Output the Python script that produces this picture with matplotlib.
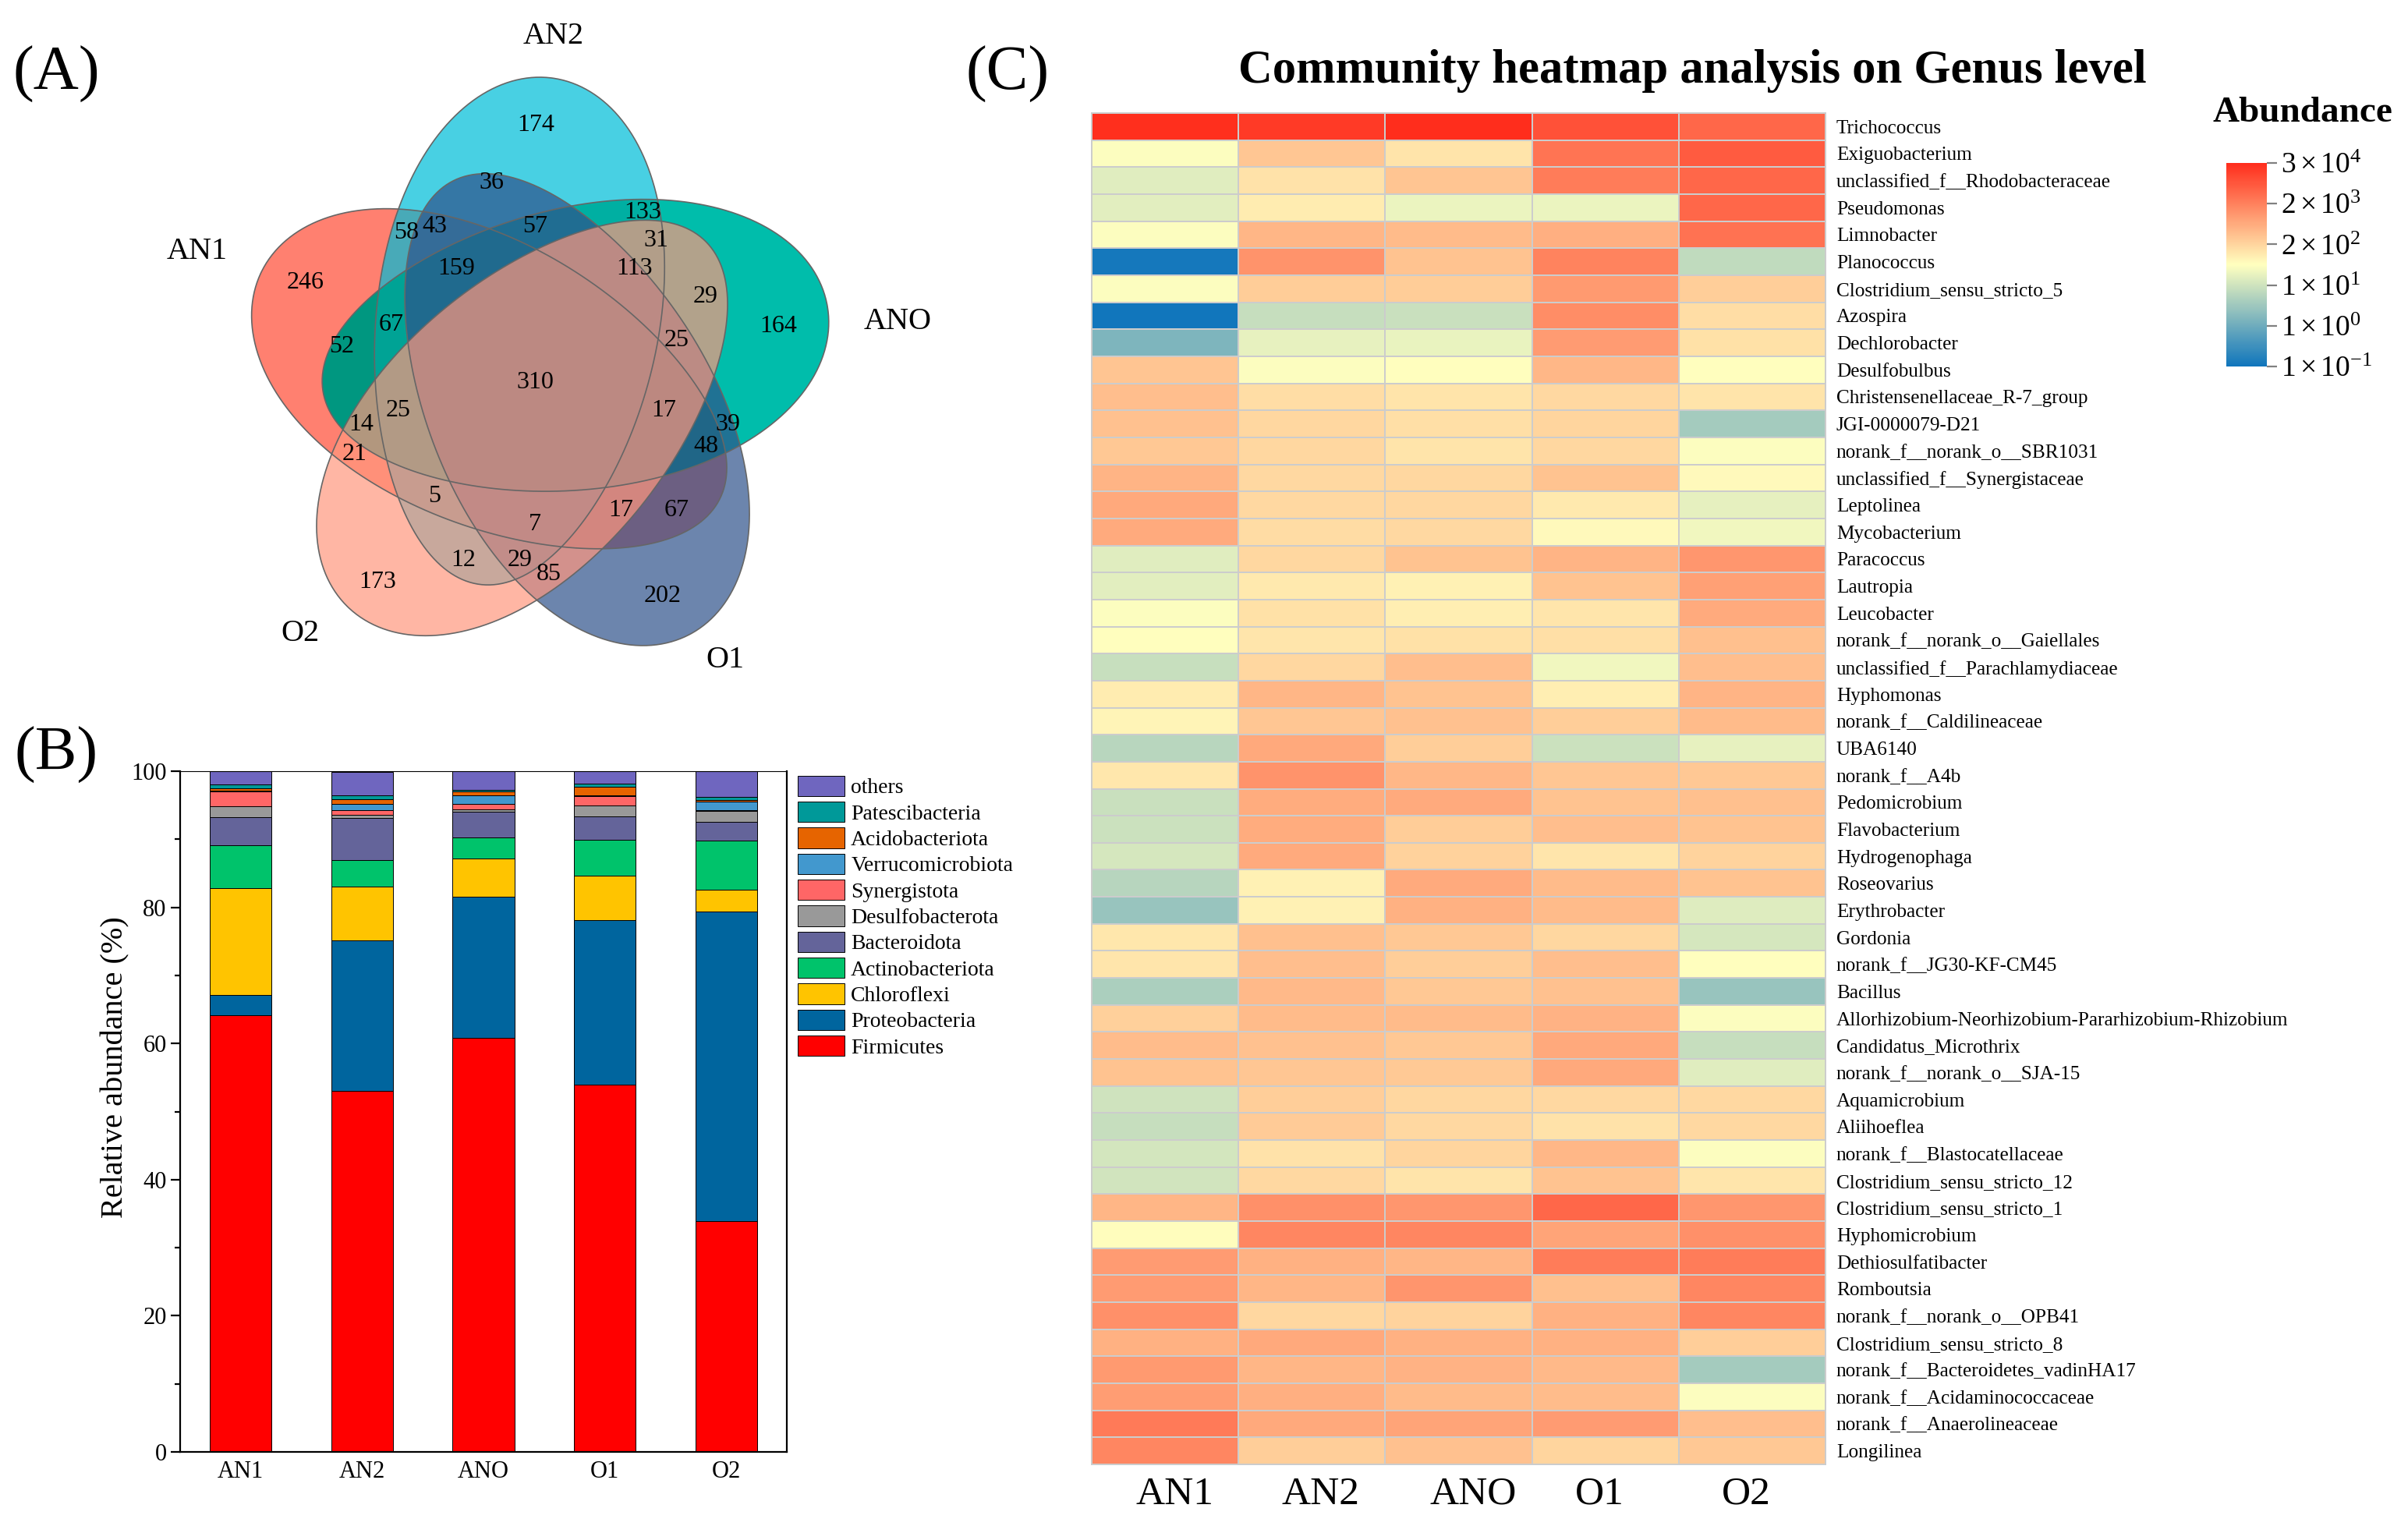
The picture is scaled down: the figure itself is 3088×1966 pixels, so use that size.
import numpy as np
import matplotlib
matplotlib.use('Agg')
import matplotlib.pyplot as plt
from matplotlib.colors import LinearSegmentedColormap, LogNorm
from matplotlib.path import Path
from matplotlib.patches import PathPatch

plt.rcParams['font.family'] = ['Liberation Serif', 'DejaVu Serif']
plt.rcParams['mathtext.fontset'] = 'custom'
plt.rcParams['mathtext.rm'] = 'Liberation Serif'
plt.rcParams['mathtext.it'] = 'Liberation Serif:italic'
plt.rcParams['mathtext.bf'] = 'Liberation Serif:bold'

W, H = 3088, 1966
samples = ['AN1', 'AN2', 'ANO', 'O1', 'O2']

# panel A
venn_names = ['AN1', 'AN2', 'ANO', 'O1', 'O2']
venn_counts = [174, 36, 133, 57, 31, 58, 43, 159, 113, 246, 29, 67, 164, 25, 52, 310,
               25, 17, 14, 39, 48, 21, 5, 67, 17, 7, 12, 29, 85, 173, 202]

# panel B
phyla = ['Firmicutes', 'Proteobacteria', 'Chloroflexi', 'Actinobacteriota', 'Bacteroidota',
         'Desulfobacterota', 'Synergistota', 'Verrucomicrobiota', 'Acidobacteriota',
         'Patescibacteria', 'others']
firmicutes = [64.1, 53.0, 60.8, 53.9, 33.9]
proteobacteria = [3.0, 22.2, 20.8, 24.2, 45.5]
chloroflexi = [15.7, 7.8, 5.6, 6.5, 3.2]
actinobacteriota = [6.3, 3.9, 3.1, 5.3, 7.2]
bacteroidota = [4.1, 6.2, 3.7, 3.4, 2.8]
desulfobacterota = [1.7, 0.5, 0.4, 1.7, 1.6]
synergistota = [2.1, 0.7, 0.8, 1.3, 0.1]
verrucomicrobiota = [0.1, 0.9, 1.3, 0.2, 1.2]
acidobacteriota = [0.4, 0.7, 0.5, 1.2, 0.3]
patescibacteria = [0.6, 0.5, 0.3, 0.5, 0.4]
others = [1.9, 3.5, 2.7, 1.8, 3.8]
phyla_colors = ['#FF0000', '#00659E', '#FFC400', '#00C36B', '#64649A', '#999999',
                '#FF6666', '#4298CE', '#E66400', '#009999', '#6F66BF']

# panel C
genera = ['Trichococcus', 'Exiguobacterium', 'unclassified_f__Rhodobacteraceae', 'Pseudomonas',
          'Limnobacter', 'Planococcus', 'Clostridium_sensu_stricto_5', 'Azospira', 'Dechlorobacter',
          'Desulfobulbus', 'Christensenellaceae_R-7_group', 'JGI-0000079-D21', 'norank_f__norank_o__SBR1031',
          'unclassified_f__Synergistaceae', 'Leptolinea', 'Mycobacterium', 'Paracoccus', 'Lautropia',
          'Leucobacter', 'norank_f__norank_o__Gaiellales', 'unclassified_f__Parachlamydiaceae', 'Hyphomonas',
          'norank_f__Caldilineaceae', 'UBA6140', 'norank_f__A4b', 'Pedomicrobium', 'Flavobacterium',
          'Hydrogenophaga', 'Roseovarius', 'Erythrobacter', 'Gordonia', 'norank_f__JG30-KF-CM45', 'Bacillus',
          'Allorhizobium-Neorhizobium-Pararhizobium-Rhizobium', 'Candidatus_Microthrix', 'norank_f__norank_o__SJA-15',
          'Aquamicrobium', 'Aliihoeflea', 'norank_f__Blastocatellaceae', 'Clostridium_sensu_stricto_12',
          'Clostridium_sensu_stricto_1', 'Hyphomicrobium', 'Dethiosulfatibacter', 'Romboutsia',
          'norank_f__norank_o__OPB41', 'Clostridium_sensu_stricto_8', 'norank_f__Bacteroidetes_vadinHA17',
          'norank_f__Acidaminococcaceae', 'norank_f__Anaerolineaceae', 'Longilinea']
abundance = [
    [28000, 20000, 29000, 10000, 5100],
    [50, 300, 125, 3600, 7200],
    [24, 130, 310, 2800, 5300],
    [25, 95, 33, 33, 5200],
    [50, 500, 430, 590, 3700],
    [0.12, 1400, 325, 2250, 10.5],
    [50, 250, 245, 1150, 240],
    [0.11, 12, 13.5, 1650, 150],
    [1.9, 30, 31, 1100, 135],
    [310, 50, 55, 470, 55],
    [380, 150, 125, 175, 125],
    [340, 180, 140, 190, 5],
    [285, 180, 125, 185, 50],
    [510, 175, 180, 330, 65],
    [730, 175, 180, 105, 28],
    [700, 155, 175, 65, 37],
    [24, 180, 330, 510, 1250],
    [26, 105, 85, 330, 950],
    [50, 135, 90, 115, 700],
    [55, 115, 135, 140, 370],
    [12.5, 185, 380, 37, 380],
    [95, 490, 330, 90, 510],
    [75, 300, 340, 235, 420],
    [8.5, 720, 235, 14, 30],
    [110, 1350, 470, 300, 285],
    [13.5, 650, 700, 330, 370],
    [14, 650, 245, 380, 325],
    [18, 680, 215, 120, 205],
    [8.3, 85, 700, 420, 330],
    [3.7, 85, 580, 420, 23],
    [110, 360, 285, 180, 18],
    [120, 380, 235, 380, 55],
    [6.2, 450, 285, 340, 3.8],
    [225, 430, 420, 530, 50],
    [400, 340, 285, 730, 12],
    [325, 300, 265, 720, 24],
    [15.5, 235, 180, 175, 175],
    [12, 260, 175, 130, 175],
    [17, 130, 190, 470, 50],
    [16, 175, 125, 330, 115],
    [500, 1550, 1250, 5100, 1250],
    [60, 2000, 2000, 860, 1500],
    [1100, 580, 500, 2700, 2700],
    [1100, 500, 1300, 370, 2050],
    [1500, 180, 205, 580, 2050],
    [580, 730, 580, 580, 235],
    [1150, 500, 540, 440, 5],
    [1050, 600, 430, 400, 50],
    [2900, 730, 830, 1100, 380],
    [2000, 230, 340, 190, 285],
]
colorbar_labels = [r'$1\times10^{-1}$', r'$1\times10^{0}$', r'$1\times10^{1}$',
                   r'$2\times10^{2}$', r'$2\times10^{3}$', r'$3\times10^{4}$']


def axes_px(x0, y0, x1, y1):
    # reference pixels (y down) to figure fractions
    return fig.add_axes([x0 / W, 1 - y1 / H, (x1 - x0) / W, (y1 - y0) / H])


def petal(angle, dx, dy):
    # egg shaped petal, pointing up before it is turned round the venn centre
    t = np.linspace(0, 2 * np.pi, 400)
    along = 328 * np.cos(t) + 58
    across = 181 * np.sin(t) * (1 + 0.10 * np.cos(t)) - 33
    a = np.radians(angle)
    x = across * np.cos(a) + along * np.sin(a)
    y = across * np.sin(a) - along * np.cos(a)
    return Path(np.column_stack([686 + dx + x, 487 + dy + y]))


fig = plt.figure(figsize=(W / 100, H / 100), dpi=100)

# ---- (A) venn ----
ax = axes_px(0, 0, 1250, 920)
venn_w, venn_h = 1250, 920
gx, gy = np.meshgrid(np.arange(venn_w) + 0.5, np.arange(venn_h) + 0.5)
grid = np.column_stack([gx.ravel(), gy.ravel()])
canvas = np.full((venn_h, venn_w, 3), 255.0)
# the reds below zero are on purpose, the overlaps in the figure clip to 0
layers = [(8.4 - 72, 10, 3, (255, 74, 51)), (8.4, 0, 0, (-6, 188, 216)), (8.4 + 72, 0, 3, (-109, 161, 135)),
          (8.4 + 144, -10, 0, (46, 82, 139)), (8.4 + 216, 6, -8, (255, 151, 126))]
paths = []
for angle, dx, dy, color in layers:
    p = petal(angle, dx, dy)
    paths.append(p)
    mask = p.contains_points(grid).reshape(venn_h, venn_w)
    canvas[mask] = np.clip(0.7 * np.array(color, float) + 0.3 * canvas[mask], 0, 255)
ax.imshow(canvas.astype(np.uint8), extent=(0, venn_w, venn_h, 0), interpolation='nearest', aspect='auto')
for p in paths:
    ax.add_patch(PathPatch(p, fill=False, ec='#666666', lw=1.2))
ax.set_xlim(0, venn_w)
ax.set_ylim(venn_h, 0)
ax.axis('off')
count_xy = [(687, 159), (630, 233), (824, 270), (686, 288), (841, 306), (521, 297), (557, 288), (585, 342),
            (814, 342), (392, 360), (905, 379), (502, 415), (998, 416), (868, 434), (438, 443), (686, 488),
            (511, 525), (851, 525), (463, 543), (933, 543), (905, 570), (455, 580), (557, 634), (868, 653),
            (796, 653), (686, 671), (594, 717), (667, 717), (704, 735), (484, 744), (850, 763)]
for n, (x, y) in zip(venn_counts, count_xy):
    ax.text(x, y + 2, str(n), fontsize=23, ha='center', va='center')
name_xy = [(253, 320), (710, 44), (1151, 410), (930, 844), (385, 809)]
for n, (x, y) in zip(venn_names, name_xy):
    ax.text(x, y + 3, n, fontsize=29, ha='center', va='center')

# ---- (B) stacked bars ----
ax = axes_px(231, 989, 1009, 1862)
series = [firmicutes, proteobacteria, chloroflexi, actinobacteriota, bacteroidota, desulfobacterota,
          synergistota, verrucomicrobiota, acidobacteriota, patescibacteria, others]
bottom = np.zeros(5)
for name, vals, color in zip(phyla, series, phyla_colors):
    ax.bar(range(5), vals, width=0.51, bottom=bottom, color=color, edgecolor='black', linewidth=0.7, label=name)
    bottom += np.array(vals)
ax.set_xlim(-0.5, 4.5)
ax.set_ylim(0, 100)
ax.set_xticks(range(5))
ax.set_xticklabels(samples, fontsize=22)
ax.set_yticks(range(0, 101, 20))
ax.set_yticks(range(10, 100, 20), minor=True)
ax.tick_params(axis='y', which='major', labelsize=22, length=9, width=1.6)
ax.tick_params(axis='y', which='minor', length=5, width=1.6)
ax.tick_params(axis='x', length=0, pad=8)
for side in ['left', 'bottom', 'right']:
    ax.spines[side].set_linewidth(1.6)
ax.spines['top'].set_linewidth(0.8)
ax.set_ylabel('Relative abundance (%)', fontsize=29)
ax.yaxis.set_label_coords(-0.083, 0.565)
handles, labels = ax.get_legend_handles_labels()
ax.legend(handles[::-1], labels[::-1], loc='upper left', bbox_to_anchor=(1.0, 1.0095), frameon=False, fontsize=20,
          handlelength=2.16, handleheight=1.08, labelspacing=0.17, handletextpad=0.3, borderaxespad=0.3, borderpad=0.2)

# ---- (C) heatmap ----
cmap = LinearSegmentedColormap.from_list('abund', ['#0F75BC', '#FFFFBF', '#FF2D1C'])
norm = LogNorm(vmin=0.1, vmax=30000)
ax = axes_px(1400, 145, 2341, 1878)
mesh = ax.pcolormesh(np.array(abundance), cmap=cmap, norm=norm, edgecolors='#CCCCCC', linewidth=1.4)
ax.set_ylim(50, 0)
ax.set_xlim(0, 5)
ax.tick_params(length=0)
for s in ax.spines.values():
    s.set_color('#CCCCCC')
    s.set_linewidth(1.4)
ax.set_yticks(np.arange(50) + 0.5)
ax.set_yticklabels(genera, fontsize=18.2)
ax.yaxis.tick_right()
ax.tick_params(axis='y', pad=10)
ax.set_xticks([0.564, 1.56, 2.60, 3.46, 4.46])
ax.set_xticklabels(samples, fontsize=37)
ax.tick_params(axis='x', pad=11)

cax = axes_px(2855, 209, 2907, 470)
cb = fig.colorbar(mesh, cax=cax)
cb.set_ticks(10 ** np.linspace(-1, np.log10(30000), 6))
cb.minorticks_off()
cb.set_ticklabels(colorbar_labels)
cb.ax.tick_params(labelsize=27, length=9, width=1.6, color='#808080', pad=4)
cb.outline.set_visible(False)

fig.text(2953 / W, 1 - 145 / H, 'Abundance', fontsize=34, fontweight='bold', ha='center', va='center')
fig.text(2170 / W, 1 - 91 / H, 'Community heatmap analysis on Genus level', fontsize=43.7, fontweight='bold',
         ha='center', va='center')
fig.text(72 / W, 1 - 95 / H, '(A)', fontsize=58, ha='center', va='center')
fig.text(72 / W, 1 - 968 / H, '(B)', fontsize=58, ha='center', va='center')
fig.text(1292 / W, 1 - 95 / H, '(C)', fontsize=58, ha='center', va='center')

fig.savefig('out.png', dpi=100)
